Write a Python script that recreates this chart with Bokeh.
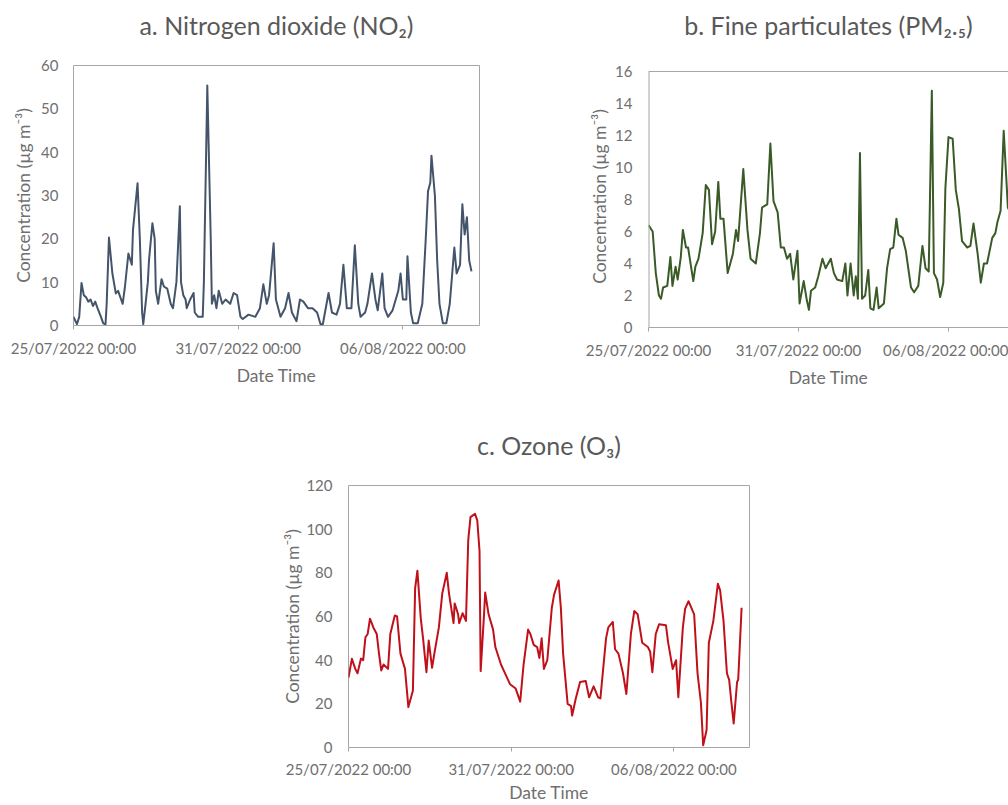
from bokeh.plotting import figure
from bokeh.layouts import column, row
from bokeh.models import Range1d, FixedTicker, Spacer, LinearAxis
from bokeh.embed import file_html
from bokeh.resources import INLINE

# ---------------- data ----------------
tick_hours = [0, 144, 288]
tick_labels = ["25/07/2022 00:00", "31/07/2022 00:00", "06/08/2022 00:00"]

# hours since 25/07/2022 00:00
no2_hours = [0, 3, 5, 7, 9, 11, 13, 15, 17, 19, 21, 24, 26, 28, 29, 31, 34, 37, 39, 43,
             45, 48, 51, 52, 56, 58, 60, 61, 63, 65, 66, 69, 71, 72, 74, 77, 79, 82, 85, 87,
             90, 93, 94, 96, 98, 99, 102, 105, 106, 109, 113, 114, 117, 120, 121, 123, 125, 127, 130, 133,
             137, 140, 143, 146, 148, 153, 159, 163, 166, 169, 171, 175, 177, 181, 185, 188, 191, 195, 198, 201,
             205, 209, 213, 216, 218, 223, 226, 230, 233, 236, 239, 243, 246, 249, 251, 255, 257, 261, 264, 266,
             270, 272, 275, 279, 284, 286, 288, 291, 292, 295, 297, 301, 305, 308, 310, 312, 313, 316, 318, 320,
             323, 326, 329, 333, 335, 338, 340, 342, 344, 345, 346, 348]
no2_values = [2, 0.3, 2, 9.8, 7, 6.5, 5.5, 6, 4.5, 5.5, 4, 2, 0.5, 0.3, 5, 20.3, 12, 7.4, 8, 5,
              9, 16.6, 14, 22, 32.8, 20, 3, 0.3, 5, 10, 15, 23.6, 20, 8, 5, 10.7, 9, 8.5, 5, 4,
              10, 27.5, 10, 7, 6, 4, 6, 7.5, 3, 2, 2, 10, 55.4, 20, 5, 7, 4, 8, 5, 6,
              5, 7.5, 7, 2, 1.5, 2.5, 2, 4, 9.5, 5, 7, 19, 6, 2, 4, 7.5, 3, 1, 6, 5.5,
              4, 4, 3, 0.3, 0.3, 7.5, 3, 2.5, 5, 14, 4, 4, 18.5, 5, 2, 3, 5, 12, 6, 3.5,
              12, 4, 2, 3.5, 8, 12, 6, 6, 16, 3, 0.5, 0.5, 5, 20, 31, 33, 39.2, 30, 15, 5,
              0.5, 0.5, 5, 18, 12, 14, 28, 21, 25, 20, 15, 12.5]

pm25_hours = [0, 4, 7, 10, 12, 14, 18, 21, 23, 26, 28, 31, 33, 36, 38, 43, 45, 48, 52, 55,
              58, 61, 64, 67, 69, 72, 76, 81, 84, 86, 91, 95, 98, 103, 107, 109, 114, 117, 120, 124,
              127, 130, 133, 136, 139, 143, 145, 149, 152, 154, 156, 160, 163, 167, 170, 175, 178, 181, 186, 189,
              191, 194, 197, 199, 201, 203, 205, 208, 211, 213, 216, 219, 221, 226, 229, 232, 235, 238, 240, 244,
              247, 252, 255, 259, 263, 266, 269, 272, 274, 277, 280, 283, 285, 288, 292, 295, 298, 301, 306, 309,
              312, 316, 319, 322, 325, 330, 333, 335, 338, 341, 345, 349]
pm25_values = [6.4, 6.0, 3.4, 2.0, 1.8, 2.5, 2.6, 4.4, 2.6, 3.8, 3.0, 4.4, 6.1, 5.0, 5.0, 2.9, 3.8, 4.3, 5.9, 8.9,
               8.6, 5.2, 6.0, 9.1, 6.8, 6.8, 3.4, 4.6, 6.1, 5.4, 9.9, 6.1, 4.3, 4.0, 5.9, 7.5, 7.7, 11.5, 7.9, 7.2,
               5.0, 5.0, 4.3, 4.6, 3.0, 4.8, 1.5, 2.9, 1.7, 1.1, 2.3, 2.5, 3.2, 4.3, 3.7, 4.3, 3.4, 3.0, 2.9, 4.0,
               2.0, 4.0, 2.0, 3.2, 1.8, 10.9, 1.8, 2.0, 3.6, 1.2, 1.1, 2.5, 1.2, 1.5, 3.7, 4.9, 5.0, 6.8, 5.8, 5.6,
               4.8, 2.5, 2.2, 2.6, 5.1, 3.7, 3.5, 14.8, 3.4, 3.0, 1.9, 2.8, 8.7, 11.9, 11.8, 8.6, 7.4, 5.4, 5.0, 5.1,
               6.5, 4.6, 2.8, 4.0, 4.0, 5.6, 5.9, 6.6, 7.3, 12.3, 7.5, 7.0]

o3_hours = [0, 3, 6, 8, 11, 13, 15, 17, 19, 22, 25, 27, 29, 31, 35, 37, 41, 43, 46, 50,
            53, 57, 59, 61, 64, 66, 69, 71, 74, 76, 80, 83, 87, 89, 93, 94, 97, 98, 101, 104,
            106, 108, 112, 114, 116, 117, 120, 121, 124, 128, 130, 135, 139, 143, 148, 152, 155, 159, 161, 164,
            167, 169, 171, 173, 176, 180, 182, 186, 188, 190, 194, 197, 198, 201, 205, 210, 213, 217, 221, 223,
            228, 230, 234, 236, 239, 243, 246, 250, 253, 256, 260, 265, 267, 269, 272, 275, 281, 283, 287, 290,
            292, 296, 298, 301, 306, 309, 312, 314, 317, 319, 323, 327, 329, 332, 335, 337, 339, 341, 344, 345,
            348]
o3_values = [32, 40.6, 36, 34, 40.7, 40, 50.5, 52, 59, 55, 52, 43, 35.3, 38, 36, 52, 60.5, 60, 43, 36,
             18.5, 26, 73, 81, 59, 50, 34.5, 49, 36.5, 43, 55, 70.5, 80, 70.5, 57, 66, 61, 57, 61.5, 58,
             95, 105.5, 107, 104, 90, 35, 61, 71, 61, 54, 46, 38, 33.5, 29, 27, 21, 38, 54, 52, 47,
             46, 41, 50, 36, 40, 64, 70, 76.5, 64, 43, 20, 19, 14.6, 22, 30, 30.5, 23, 28, 23, 22.5,
             50, 55, 57.5, 45, 43, 34, 24.5, 52, 62.5, 61, 48, 46, 44, 34.5, 52, 56.5, 56, 48, 36, 40,
             23, 55, 63.5, 67, 61, 34, 20.5, 1, 8, 48, 58, 75, 72, 58, 34, 31, 20.5, 11, 30, 31,
             64]

# ---------------- styling ----------------
FONT = "Lato"
TITLE_COLOR = "#595959"
TEXT_COLOR = "#6f6f6f"
FRAME_COLOR = "#a6a6a6"


def panel(title, hours, values, color, y_max, y_step, x_end, fw, fh,
          bl, bt, bb, br, y_view=None, open_right=False,
          tick_standoff=15, label_standoff=4, x_label_standoff=9, x_title_standoff=5):
    y_end = y_view if y_view is not None else y_max
    p = figure(frame_width=fw, frame_height=fh, output_backend="svg",
               toolbar_location=None, x_range=Range1d(0, x_end),
               y_range=Range1d(0, y_end),
               min_border_left=bl, min_border_top=bt, min_border_bottom=bb,
               min_border_right=br)
    p.line(hours, values, line_color=color, line_width=2, line_join="round")

    p.grid.visible = False
    p.background_fill_color = "white"
    p.border_fill_color = "white"

    xa = p.below[0]
    xa.ticker = FixedTicker(ticks=tick_hours)
    xa.major_label_overrides = dict(zip(tick_hours, tick_labels))
    xa.minor_tick_line_color = None
    xa.major_tick_out = 4
    xa.major_tick_in = 0
    xa.major_tick_line_color = FRAME_COLOR
    xa.major_label_standoff = x_label_standoff
    xa.axis_label = "Date Time"
    xa.axis_label_standoff = x_title_standoff

    ya = p.left[0]
    ya.ticker = FixedTicker(ticks=list(range(0, y_max + 1, y_step)))
    ya.minor_tick_line_color = None
    ya.major_tick_out = 0
    ya.major_tick_in = 0
    ya.major_label_standoff = tick_standoff
    ya.axis_label = "Concentration (µg m⁻³)"
    ya.axis_label_standoff = label_standoff

    for ax in (xa, ya):
        ax.major_label_text_font = FONT
        ax.major_label_text_font_size = "15px"
        ax.major_label_text_color = TEXT_COLOR
        ax.axis_label_text_font = FONT
        ax.axis_label_text_font_size = "17.5px"
        ax.axis_label_text_font_style = "normal"
        ax.axis_label_text_color = TEXT_COLOR

    # panel title, drawn as the label of an otherwise empty top axis
    top = LinearAxis(ticker=FixedTicker(ticks=[]), axis_line_color=None,
                     major_tick_out=0, major_tick_in=0, minor_tick_out=0,
                     major_label_standoff=0, major_label_text_font_size="0px",
                     axis_label=title, axis_label_standoff=26,
                     axis_label_text_font=FONT, axis_label_text_font_size="25px",
                     axis_label_text_font_style="normal",
                     axis_label_text_color=TITLE_COLOR)
    p.add_layout(top, "above")

    if open_right:
        # frame cut at the right edge of the picture: left, top and bottom lines only
        p.outline_line_color = None
        xa.axis_line_color = FRAME_COLOR
        ya.axis_line_color = None
        p.segment(x0=[0], y0=[0], x1=[0], y1=[y_max], line_color=FRAME_COLOR, line_width=2)
        p.segment(x0=[0], y0=[y_max], x1=[x_end], y1=[y_max], line_color=FRAME_COLOR, line_width=1)
    else:
        p.outline_line_color = FRAME_COLOR
        p.outline_line_width = 1
        p.outline_line_alpha = 1
        xa.axis_line_color = None
        ya.axis_line_color = None
    return p


pa = panel("a. Nitrogen dioxide (NO₂)", no2_hours, no2_values, "#44546a",
           60, 10, 355, 406, 260, bl=73, bt=65, bb=65, br=20,
           tick_standoff=15, label_standoff=4)
pb = panel("b. Fine particulates (PM₂.₅)", pm25_hours, pm25_values, "#3a5a27",
           16, 2, 345.6, 360, 262, bl=149, bt=65, bb=65, br=0, y_view=16.375,
           open_right=True, tick_standoff=16, label_standoff=2)
pc = panel("c. Ozone (O₃)", o3_hours, o3_values, "#c0101a",
           120, 20, 355, 401, 262, bl=100, bt=93, bb=57, br=10,
           tick_standoff=16, label_standoff=0, x_label_standoff=8, x_title_standoff=1)

layout = column(row(pa, pb), row(Spacer(width=248, height=10), pc))

open("out.html", "w").write(file_html(layout, INLINE))
